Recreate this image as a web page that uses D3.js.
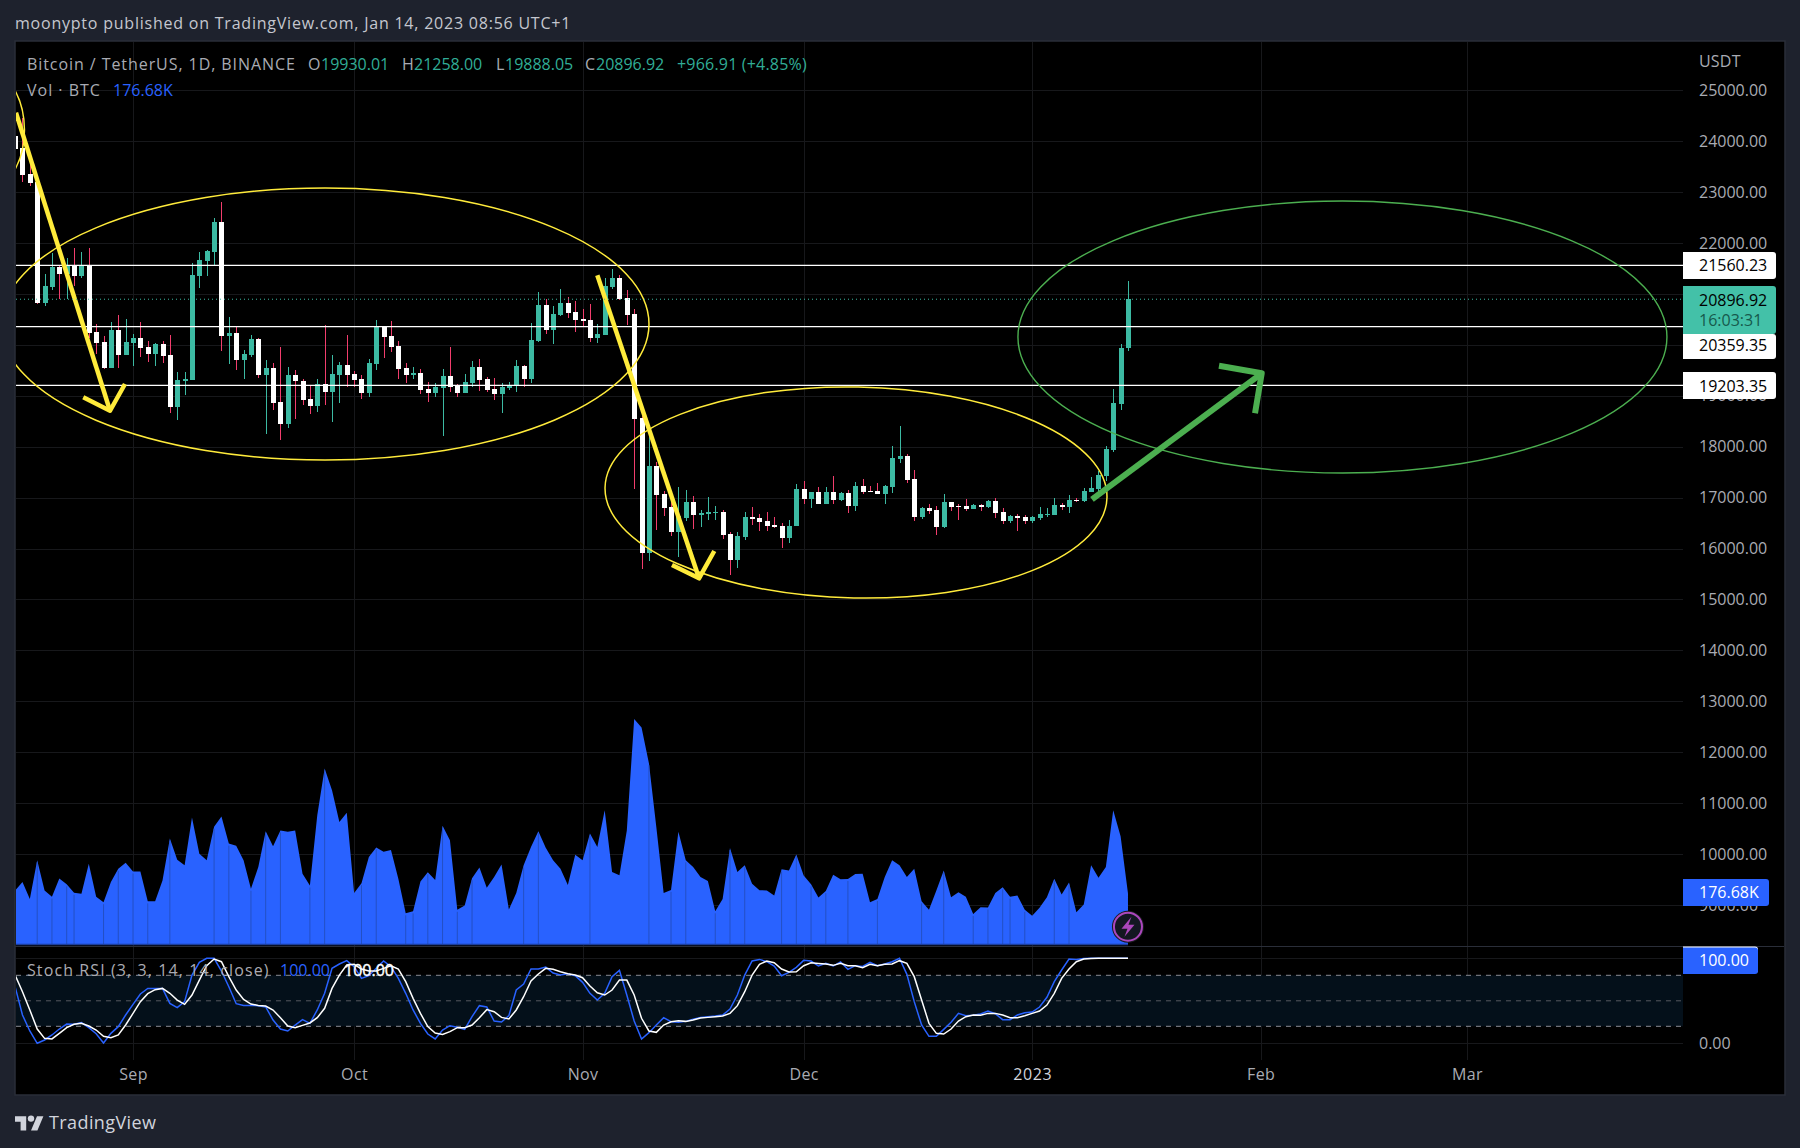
<!DOCTYPE html>
<html><head><meta charset="utf-8">
<style>html,body{margin:0;padding:0;background:#1e222d}svg{display:block}text{font-family:"Open Sans","Noto Sans",sans-serif}</style>
<script src="https://cdn.jsdelivr.net/npm/d3@7/dist/d3.min.js"></script>
</head><body><svg id="c" width="1800" height="1148"></svg>
<script>
// Daily candles, 16 Aug 2022 to 14 Jan 2023
const opens=[24103,23867,23357,23200,20830,21144,21530,21400,21557,21360,21563,20254,20058,19547,20293,19809,20044,20136,19959,19822,20018,19802,18788,19298,19311,21360,21648,21825,22414,20182,20234,19704,19802,20117,19409,19547,18879,18447,19409,19292,18938,18801,19233,19075,19409,19605,19428,19330,19055,19625,20351,20174,19978,19546,19409,19448,19134,19055,19153,19389,19193,19055,19251,19566,19330,19134,19035,19153,19193,19585,19330,20076,20783,20292,20587,20823,20646,20508,20489,20135,20194,21137,21313,20921,20607,18564,15913,17622,17072,16816,16325,16600,16915,16659,16679,16699,16718,16286,15775,16227,16620,16600,16541,16463,16443,16208,16443,17170,16973,17111,16875,17111,16954,17091,16836,17229,17131,17131,17072,17209,17759,17818,17366,16620,16797,16758,16424,16915,16836,16836,16777,16856,16817,16935,16719,16542,16640,16620,16542,16601,16660,16660,16856,16817,16954,16935,17111,17170,17426,17936,18839,19930.01];
const highs=[24286,24450,23612,23200,21393,21799,21570,21707,21897,21818,21897,20411,20175,20450,20588,20509,20215,20450,20077,20038,20077,20195,19468,19468,21609,21825,21864,22493,22807,20549,20352,19900,20195,20136,19704,19645,19959,19567,19508,19331,19193,19331,20391,19801,19664,20194,19487,19409,19723,20489,20371,20469,20076,19644,19566,19526,19271,19251,19526,19958,19232,19428,19684,19723,19369,19350,19251,19271,19703,19605,20430,21039,20895,20764,21097,20940,20862,20705,20803,20410,21313,21490,21372,21078,20705,18603,18211,17700,17131,16973,17209,17150,17032,16758,17013,16836,16758,16325,16325,16718,16816,16679,16718,16620,16502,16561,17268,17327,17111,17209,17209,17425,17111,17150,17307,17366,17229,17288,17248,18014,18407,17857,17543,16816,16876,16836,17072,16915,16876,16974,16876,16876,16954,16993,16797,16660,16679,16660,16640,16817,16797,16993,16895,17052,16993,17190,17406,17524,18015,19134,20018,21258];
const lows=[23684,23206,23121,20804,20764,21079,20902,20902,21164,21314,20130,19822,19521,19547,19547,19809,19586,19770,19671,19593,19645,18670,18526,19023,19311,21118,21354,21550,19887,19626,19508,19331,19763,19351,18251,18722,18133,18369,18546,18820,18643,18683,18820,18486,18859,19173,19173,18937,18977,19507,19742,19860,19330,19251,19330,19035,18878,18977,18211,19075,18977,19055,19173,19094,19075,18918,18662,19114,19075,19173,19251,20057,20214,20017,20567,20528,20253,20351,20057,20037,20194,21097,20881,20390,17170,15599,15756,16365,16640,16247,15834,16541,16384,16424,16561,16561,16188,15481,15618,16168,16463,16345,16345,16404,16011,16109,16443,16875,16797,16875,16875,16875,16934,16699,16738,17072,17111,17072,16875,17091,17680,17288,16541,16581,16679,16267,16404,16738,16562,16738,16777,16738,16797,16601,16483,16502,16345,16483,16502,16562,16620,16660,16758,16699,16915,16915,17111,17111,17327,17897,18722,19888.05];
const closes=[23854,23344,23187,20830,21157,21530,21400,21557,21360,21570,20241,20044,19547,20293,19809,20058,20136,19946,19822,20018,19789,18788,19311,19324,21373,21668,21845,22414,20182,20234,19704,19822,20117,19409,19547,18866,18447,19409,19292,18918,18801,19233,19076,19428,19605,19409,19310,19055,19644,20351,20155,19958,19526,19409,19448,19114,19055,19173,19389,19173,19055,19271,19566,19310,19114,19035,19173,19212,19585,19330,20096,20783,20292,20606,20823,20626,20489,20469,20135,20214,21156,21313,20901,20587,18545,15913,17622,17052,16797,16325,16640,16915,16659,16699,16718,16718,16267,15775,16247,16620,16581,16522,16443,16424,16208,16443,17170,16973,17111,16875,17111,16954,17091,16836,17229,17111,17111,17072,17229,17779,17818,17347,16620,16797,16738,16424,16915,16817,16817,16777,16856,16817,16935,16699,16542,16640,16601,16542,16620,16679,16679,16856,16817,16954,16935,17131,17190,17445,17956,18859,19939,20896.92];
const volumeK=[186,215,157,289,186,165,227,207,178,175,277,165,146,215,260,281,251,251,149,149,220,363,291,272,435,311,289,403,438,346,339,289,192,266,388,337,391,386,391,243,203,443,602,528,420,451,177,211,300,333,318,324,226,108,115,217,248,222,407,357,120,135,228,264,195,232,275,121,177,272,334,388,332,289,260,205,308,289,380,334,460,249,238,391,771,742,620,403,177,188,386,289,266,232,218,115,157,331,249,272,209,187,186,169,258,254,309,237,207,162,184,240,224,225,242,243,146,157,232,289,272,232,260,149,120,186,254,163,180,165,106,129,128,177,197,165,169,120,100,127,163,226,172,213,112,138,272,229,266,460,371,176.68];
const volumeSeamDays=[3,5,7,8,12,14,16,18,21,27,29,32,34,36,40,42,47,49,53,54,56,58,60,62,69,71,78,86,89,91,95,97,99,104,106,108,110,113,117,123,126,130,132,134,135,137,141,143];
const stochK=[66.6,33.3,14.5,0,3.9,9.8,16.8,22.7,22.3,24.3,18.4,11.3,0.4,11.7,19.6,33.3,45.8,58,64.6,64.6,64.6,47,41.9,49,80.3,95.2,100,100,85,66.6,46.6,44.6,44.6,44.3,42.7,27.4,16.8,14.5,21.5,27.8,23.5,39.2,58.8,88.2,93.3,97.2,90.1,76.4,79.5,88.2,96.8,90.1,76.4,58.8,39.2,23.5,10.9,5.1,15.6,20.7,18.8,16.4,31.3,44.3,42.7,26.2,25,32.5,62.7,69.7,87.4,87.4,89.7,82.7,80.3,81.9,79.5,71.7,58.8,50.9,58.8,78.4,85.8,56.8,26.2,5.1,12.5,21.5,30.1,25.4,24.7,25.8,28.2,30.5,31.3,32.1,33.3,40.3,56.8,80.3,96.8,98.7,96,90.9,79.5,83.5,89.3,97.6,96.8,90.9,94,90.9,95.6,87,91.3,90.5,95.2,91.3,93.3,96,100,81.1,49,21.5,8.2,8.2,16.4,24.7,35.2,32.5,32.9,34.5,38,34.8,27.8,27.8,33.3,36,36.8,42.7,54.1,72.5,86.2,99.1,98.7,99.9,100,100,100,100,100,100];
const stochD=[80.3,60.7,39.2,16.8,5.8,5.1,11.7,18.4,22.3,23.5,20.3,15.6,8.2,6.6,9.8,21.5,35.2,49,58.4,63.1,64.6,58.8,50.9,45.8,56.8,74.4,91.3,99.1,96,78.4,62.7,51.7,46.2,44.6,43.9,39.2,30.1,20.3,18.4,21.1,23.9,30.1,41.2,64.6,80.3,92.1,92.9,87.4,85,85,88.2,91.3,87.4,72.5,52.9,35.2,19.6,12.1,10.5,13.7,18.4,18.4,21.5,30.1,39.6,37.2,30.5,28.6,39.2,54.8,73.3,81.5,88.2,87,84.2,81.9,80.3,77.2,67.4,59.5,56.8,62.7,74.4,74.4,56.8,29.4,14.5,12.9,21.5,25.4,26.6,25.8,27.4,29.8,30.5,31.3,32.1,35.2,44.3,60.7,80.3,92.9,96.8,94.8,87.4,83.9,84.2,91.3,94.8,94,93.3,91.7,94,91.3,91.3,88.9,92.9,91.3,92.9,93.3,97.2,94,78.4,50.9,23.5,11.7,10.9,16.8,26.2,31.3,33.3,32.9,35.2,35.2,33.3,30.1,30.1,32.5,35.2,38,45,58.8,76.4,87.4,96,99.1,99.9,100,100,100,100,100];
const priceTicks=[25000,24000,23000,22000,21000,20000,19000,18000,17000,16000,15000,14000,13000,12000,11000,10000,9000];
const priceTickLabels=[25000,24000,23000,22000,19000,18000,17000,16000,15000,14000,13000,12000,11000,10000,9000];
const monthDays=[16,46,77,107,138,169,197];
const monthLabels=["Sep","Oct","Nov","Dec","2023","Feb","Mar"];
const levelValues=[21560.23,20359.35,19203.35];
const lastClose=20896.92;
// Drawings, in day number and price
const yellowEllipses=[[42.05,20410,43.96,2671,0],[114.1,17101,34.06,2072,1.15],[-6.12,24220,7.39,1375,0]];
const greenEllipses=[[180.1,20155,44.03,2671,0]];
const yellowArrows=[[[0.12,24560],[12.88,18707]],[[9.25,18970],[12.88,18707],[14.91,19232]],[[79,21367],[92.8,15416]],[[89.13,15677],[92.8,15416],[94.87,15952]]];
const greenArrows=[[[146.12,16967],[169.15,19442]],[[163.35,19591],[169.15,19442],[168.24,18656]]];

const TEAL="#3cbaa3",PINK="#f23d6d",BLUE="#2962ff",YEL="#ffeb3b",GRN="#4caf50",TXT="#a9abb3";
const svg=d3.select("#c");
const L=16,R=1683,T=42,PB=946,B=1060;
const x=d3.scaleLinear().domain([0,151]).range([15.1,15.1+7.37*151]);
const y=d3.scaleLinear().domain([25000,9000]).range([90.3,905]);
const yV=d3.scaleLinear().domain([0,771]).range([945,719]);
const yS=d3.scaleLinear().domain([0,100]).range([1043.3,958.3]);
const days=d3.range(opens.length);

svg.append("rect").attr("x",15).attr("y",41).attr("width",1770).attr("height",1054).attr("fill","#000").attr("stroke","#2a2e39").attr("stroke-width",1.5);
const defs=svg.append("defs");
defs.append("clipPath").attr("id","main").append("rect").attr("x",L).attr("y",T).attr("width",R-L).attr("height",PB-T);
defs.append("clipPath").attr("id","lower").append("rect").attr("x",L).attr("y",947).attr("width",R-L).attr("height",B-947);

// grid
const gridG=svg.append("g").attr("shape-rendering","crispEdges").attr("stroke","#17181b");
gridG.selectAll(".v").data(monthDays).join("line").attr("x1",d=>Math.round(x(d))+.5).attr("x2",d=>Math.round(x(d))+.5).attr("y1",T).attr("y2",B);
gridG.selectAll(".h").data(priceTicks).join("line").attr("x1",L).attr("x2",R).attr("y1",d=>Math.round(y(d))+.5).attr("y2",d=>Math.round(y(d))+.5);
gridG.selectAll(".s").data([0,100]).join("line").attr("x1",L).attr("x2",R).attr("y1",d=>Math.round(yS(d))+.5).attr("y2",d=>Math.round(yS(d))+.5);

// volume
const main=svg.append("g").attr("clip-path","url(#main)");
main.append("path").datum(days).attr("fill",BLUE).attr("d",d3.area().x(d=>x(d)).y0(945).y1(d=>yV(volumeK[d])));
main.append("g").selectAll("line").data(volumeSeamDays).join("line").attr("x1",d=>x(d)).attr("x2",d=>x(d)).attr("y1",d=>yV(volumeK[d])+2).attr("y2",945).attr("stroke","#2450c4").attr("stroke-width",1);
main.append("line").attr("x1",L).attr("x2",x(151)).attr("y1",944.5).attr("y2",944.5).attr("stroke","#1c3f9e").attr("stroke-width",1.5);

// dotted last price
svg.append("line").attr("x1",L).attr("x2",R).attr("y1",y(lastClose)).attr("y2",y(lastClose)).attr("stroke",TEAL).attr("stroke-dasharray","1 3").attr("stroke-width",1);

// candles
const cg=main.append("g").attr("shape-rendering","crispEdges");
const up=i=>closes[i]>=opens[i];
cg.selectAll(".w").data(days).join("rect").attr("x",i=>Math.round(x(i))).attr("width",1).attr("y",i=>y(highs[i])).attr("height",i=>y(lows[i])-y(highs[i])).attr("fill",i=>up(i)?TEAL:PINK);
cg.selectAll(".b").data(days).join("rect").attr("x",i=>Math.round(x(i))-2).attr("width",5)
  .attr("y",i=>Math.round(y(Math.max(opens[i],closes[i]))))
  .attr("height",i=>Math.max(1,Math.round(y(Math.min(opens[i],closes[i])))-Math.round(y(Math.max(opens[i],closes[i])))))
  .attr("fill",i=>up(i)?TEAL:"#fff");

// levels
main.selectAll(".lv").data(levelValues).join("line").attr("x1",L).attr("x2",R).attr("y1",d=>y(d)).attr("y2",d=>y(d)).attr("stroke","#fff").attr("stroke-width",1.3);

// drawings
const px=7.37/1, py=Math.abs(y(0)-y(1));
function ell(g,data,col,w){g.selectAll(null).data(data).join("ellipse")
  .attr("cx",d=>x(d[0])).attr("cy",d=>y(d[1])).attr("rx",d=>d[2]*px).attr("ry",d=>d[3]*py)
  .attr("transform",d=>`rotate(${d[4]} ${x(d[0])} ${y(d[1])})`)
  .attr("fill","none").attr("stroke",col).attr("stroke-width",w);}
ell(main,yellowEllipses,YEL,1.5);ell(main,greenEllipses,GRN,1.4);
const ln=d3.line().x(d=>x(d[0])).y(d=>y(d[1]));
function arr(g,data,col,w){g.selectAll(null).data(data).join("path").attr("d",ln).attr("fill","none").attr("stroke",col).attr("stroke-width",w).attr("stroke-linejoin","round");}
arr(main,yellowArrows,YEL,4.5);arr(main,greenArrows,GRN,6);

// stoch
const low=svg.append("g").attr("clip-path","url(#lower)");
low.append("rect").attr("x",L).attr("width",R-L).attr("y",yS(80)).attr("height",yS(20)-yS(80)).attr("fill","#04101a");
low.selectAll(".d").data([80,50,20]).join("line").attr("x1",L).attr("x2",R).attr("y1",d=>yS(d)).attr("y2",d=>yS(d)).attr("stroke",d=>d==50?"#55585f":"#8a8d94").attr("stroke-dasharray","5 5").attr("stroke-width",1);
low.append("path").datum(stochK).attr("fill","none").attr("stroke",BLUE).attr("stroke-width",1.5).attr("d",d3.line().x((d,i)=>x(i)).y(d=>yS(d)));
low.append("path").datum(stochD).attr("fill","none").attr("stroke","#fff").attr("stroke-width",1.5).attr("d",d3.line().x((d,i)=>x(i)).y(d=>yS(d)));
svg.append("line").attr("x1",15).attr("x2",1784).attr("y1",946.5).attr("y2",946.5).attr("stroke","#2a2e39");

// axes
function tx(s,xx,yy,col,o){const t=svg.append("text").attr("x",xx).attr("y",yy).attr("fill",col).attr("font-size",(o&&o.size)||16).attr("dominant-baseline","central").text(s);
 if(o&&o.anchor)t.attr("text-anchor",o.anchor); if(o&&o.weight)t.attr("font-weight",o.weight); if(o&&o.ls)t.attr("letter-spacing",o.ls); return t;}
const yAxis=d3.axisRight(y).tickValues(priceTickLabels).tickFormat(d3.format(".2f")).tickSize(0).tickPadding(0);
const ya=svg.append("g").attr("transform","translate(1699,-1)").call(yAxis);
ya.select(".domain").remove();
ya.selectAll("text").attr("fill",TXT).attr("font-size",16).attr("dy",null).attr("dominant-baseline","central").style("font-family",'"Open Sans"');
const xAxis=d3.axisBottom(x).tickValues(monthDays).tickFormat((d,i)=>monthLabels[i]).tickSize(0).tickPadding(0);
const xa=svg.append("g").attr("transform","translate(0,1074)").call(xAxis);
xa.select(".domain").remove();
xa.selectAll("text").attr("fill",TXT).attr("font-size",16).attr("dy",null).attr("y",0).attr("letter-spacing",.4).attr("dominant-baseline","central").style("font-family",'"Open Sans"');
xa.selectAll("text").filter(d=>d==138).attr("fill","#d1d4dc").attr("letter-spacing",.6);
tx("USDT",1699,61,TXT,{ls:.2});
tx("0.00",1699,yS(0),TXT);

// price tags
function tag(x1,y0,y1,fill){svg.append("path").attr("d",`M1683 ${y0}H${x1-3}a3 3 0 0 1 3 3V${y1-3}a3 3 0 0 1 -3 3H1683Z`).attr("fill",fill);}
tag(1776,252,279,"#fff");tx("21560.23",1699,265,"#000");
tag(1776,334,359,"#fff");tx("20359.35",1699,345,"#000");
tag(1776,286,334,"#43c1a8");tx("20896.92",1699,299.5,"#000");tx("16:03:31",1699,320,"#16594c");
tag(1776,372,399,"#fff");tx("19203.35",1699,385.5,"#000");
tag(1769,879,906,BLUE);tx("176.68K",1699,892,"#fff");
tag(1758,946.5,973,"#fff");tag(1758,947.5,974,BLUE);tx("100.00",1699,960,"#fff");

// header and legends
tx("moonypto published on TradingView.com, Jan 14, 2023 08:56 UTC+1",15,23,"#c5c7cf",{size:16,ls:.78});
const G="#a9abb3",LT="#30ad97";
tx("Bitcoin / TetherUS, 1D, BINANCE",27,64,G,{ls:.93});
tx("O",308,64,G);tx("19930.01",321,64,LT);
tx("H",402,64,G);tx("21258.00",414,64,LT);
tx("L",496,64,G);tx("19888.05",505,64,LT);
tx("C",585,64,G);tx("20896.92",596,64,LT);
tx("+966.91 (+4.85%)",677,64,LT,{ls:.2});
tx("Vol · BTC",27,90,G,{ls:1});tx("176.68K",113,90,BLUE);
tx("Stoch RSI (3, 3, 14, 14, close)",27,970,G,{ls:1.1});
tx("100.00",280,970,BLUE);
tx("100.00",344,970,"#fff").attr("stroke","#fff").attr("stroke-width",.4);

// flash badge
const fl=svg.append("g").attr("transform",`translate(${x(151)},926.7)`);
fl.append("circle").attr("r",16).attr("fill","#1a1a1f");
fl.append("circle").attr("r",14).attr("fill","#131722").attr("stroke","#ab47bc").attr("stroke-width",2);
fl.append("path").attr("d","M3.5 -10 L-6.5 2 H-0.5 L-3.5 10 L6.5 -2 H0.5 Z").attr("fill","#ab47bc");

// logo
const lg=svg.append("g").attr("transform","translate(15,1113) scale(0.8)").attr("fill","#d1d4dc");
lg.append("path").attr("d","M14 22H7V11H0V4h14v18zM28 22h-8l7.5-18h8L28 22z");
lg.append("circle").attr("cx",20).attr("cy",7).attr("r",4);
tx("TradingView",49,1122,"#d1d4dc",{size:18,weight:500,ls:.4});
</script></body></html>
